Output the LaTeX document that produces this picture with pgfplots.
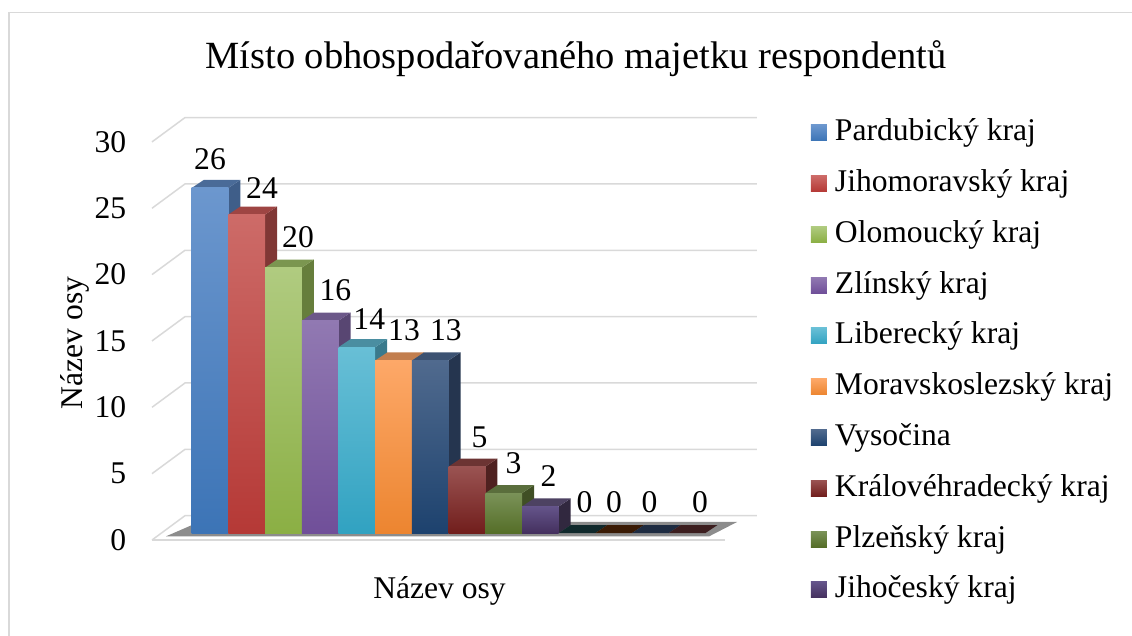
\documentclass[border=0pt]{standalone}
\usepackage{pgfplots}
\pgfplotsset{compat=1.18}
\usepackage{fontspec}
\setmainfont{Liberation Serif}
\newcommand{\bigf}{\fontsize{31.6}{38}\selectfont}
\definecolor{gridc}{HTML}{D9D9D9}
\definecolor{f1t}{HTML}{6C97CE}\definecolor{f1b}{HTML}{3C74B6}
\definecolor{f2t}{HTML}{CD6B68}\definecolor{f2b}{HTML}{B53936}
\definecolor{f3t}{HTML}{B0CB80}\definecolor{f3b}{HTML}{8BAF44}
\definecolor{f4t}{HTML}{9179B2}\definecolor{f4b}{HTML}{704F99}
\definecolor{f5t}{HTML}{68BFD6}\definecolor{f5b}{HTML}{31A2C1}
\definecolor{f6t}{HTML}{FDA868}\definecolor{f6b}{HTML}{EC8530}
\definecolor{f7t}{HTML}{506A8E}\definecolor{f7b}{HTML}{1D426E}
\definecolor{f8t}{HTML}{9A5352}\definecolor{f8b}{HTML}{711E1C}
\definecolor{f9t}{HTML}{7A9258}\definecolor{f9b}{HTML}{556E28}
\definecolor{f10t}{HTML}{64548A}\definecolor{f10b}{HTML}{44305E}
\definecolor{s1}{HTML}{3F5E89}\definecolor{s2}{HTML}{803735}
\definecolor{s3}{HTML}{667E3C}\definecolor{s4}{HTML}{584672}
\definecolor{s5}{HTML}{3A7A8C}\definecolor{s6}{HTML}{A85E24}
\definecolor{s7}{HTML}{25354F}\definecolor{s8}{HTML}{4F2120}
\definecolor{s9}{HTML}{404F25}\definecolor{s10}{HTML}{31283F}
\definecolor{t1}{HTML}{4A6B98}\definecolor{t2}{HTML}{9E4543}
\definecolor{t3}{HTML}{7B9650}\definecolor{t4}{HTML}{6C5889}
\definecolor{t5}{HTML}{4A8EA1}\definecolor{t6}{HTML}{C27E4E}
\definecolor{t7}{HTML}{3C5272}\definecolor{t8}{HTML}{6C3433}
\definecolor{t9}{HTML}{5A6E3C}\definecolor{t10}{HTML}{4D4262}
\definecolor{t11}{HTML}{10292C}\definecolor{t12}{HTML}{3A1B05}
\definecolor{t13}{HTML}{1E2C42}\definecolor{t14}{HTML}{3C1E1F}
\begin{document}
\begin{tikzpicture}
\useasboundingbox (-173.35pt,-102pt) rectangle (958.65pt,533pt);
\draw[gridc, line width=1.5pt] (-164.35pt,-200pt) -- (-164.35pt,520.7pt) -- (1100pt,520.7pt);
\begin{axis}[
  anchor=origin, at={(0pt,0pt)},
  x=36.7pt, y=13.27pt,
  xmin=-0.6, xmax=16, ymin=-0.6, ymax=31.5,
  axis line style={draw=none}, clip=false,
  xtick=\empty,
  ytick={-0.528,4.472,9.472,14.472,19.472,24.472,29.472},
  yticklabels={0,5,10,15,20,25,30},
  major tick length=0pt,
  /pgf/number format/assume math mode=true,
  yticklabel style={anchor=east, inner sep=0pt, xshift=-25pt, font=\bigf},
  legend image code/.code={\draw[#1, draw=none] (0pt,-8pt) rectangle (16pt,8pt);},
  legend style={at={(axis description cs:1.0828,0.996)}, anchor=north west,
    draw=none, inner sep=0pt, outer sep=0pt, row sep=18.8pt, column sep=8pt,
    font=\bigf, nodes={inner sep=0pt, text height=24pt, text depth=8pt}},
  legend cell align=left,
]
% shadow
\addplot[forget plot, fill=black, fill opacity=0.45, draw=none] coordinates {(-0.2,-0.25)(14.6,-0.25)(15.36,0.83)(0.7,0.83)} -- cycle;
% gridlines: slanted left wall part and back wall part
\addplot[forget plot, gridc, line width=1.5pt] coordinates {(-0.582,-0.528)(0.317,1.304)(15.9,1.304)};
\addplot[forget plot, gridc, line width=1.5pt] coordinates {(-0.582,4.472)(0.317,6.304)(15.9,6.304)};
\addplot[forget plot, gridc, line width=1.5pt] coordinates {(-0.582,9.472)(0.317,11.304)(15.9,11.304)};
\addplot[forget plot, gridc, line width=1.5pt] coordinates {(-0.582,14.472)(0.317,16.304)(15.9,16.304)};
\addplot[forget plot, gridc, line width=1.5pt] coordinates {(-0.582,19.472)(0.317,21.304)(15.9,21.304)};
\addplot[forget plot, gridc, line width=1.5pt] coordinates {(-0.582,24.472)(0.317,26.304)(15.9,26.304)};
\addplot[forget plot, gridc, line width=1.5pt] coordinates {(-0.582,29.472)(0.317,31.304)(15.9,31.304)};
\addplot[forget plot, gridc, line width=1.5pt] coordinates {(-0.582,-0.528)(15.03,-0.528)};
% bar 1
\addplot[forget plot, fill=s1, draw=none] coordinates {(1.5,0)(1.827,0.603)(1.827,26.603)(1.5,26)} -- cycle;
\addplot[forget plot, fill=t1, draw=none] coordinates {(0.5,26)(0.827,26.603)(1.827,26.603)(1.5,26)} -- cycle;
\addplot[ybar, bar width=1, bar shift=0pt, draw=none, top color=f1t, bottom color=f1b] coordinates {(1,26)};
\addlegendentry{Pardubický kraj}
% bar 2
\addplot[forget plot, fill=s2, draw=none] coordinates {(2.5,0)(2.827,0.603)(2.827,24.603)(2.5,24)} -- cycle;
\addplot[forget plot, fill=t2, draw=none] coordinates {(1.5,24)(1.827,24.603)(2.827,24.603)(2.5,24)} -- cycle;
\addplot[ybar, bar width=1, bar shift=0pt, draw=none, top color=f2t, bottom color=f2b] coordinates {(2,24)};
\addlegendentry{Jihomoravský kraj}
% bar 3
\addplot[forget plot, fill=s3, draw=none] coordinates {(3.5,0)(3.827,0.603)(3.827,20.603)(3.5,20)} -- cycle;
\addplot[forget plot, fill=t3, draw=none] coordinates {(2.5,20)(2.827,20.603)(3.827,20.603)(3.5,20)} -- cycle;
\addplot[ybar, bar width=1, bar shift=0pt, draw=none, top color=f3t, bottom color=f3b] coordinates {(3,20)};
\addlegendentry{Olomoucký kraj}
% bar 4
\addplot[forget plot, fill=s4, draw=none] coordinates {(4.5,0)(4.827,0.603)(4.827,16.603)(4.5,16)} -- cycle;
\addplot[forget plot, fill=t4, draw=none] coordinates {(3.5,16)(3.827,16.603)(4.827,16.603)(4.5,16)} -- cycle;
\addplot[ybar, bar width=1, bar shift=0pt, draw=none, top color=f4t, bottom color=f4b] coordinates {(4,16)};
\addlegendentry{Zlínský kraj}
% bar 5
\addplot[forget plot, fill=s5, draw=none] coordinates {(5.5,0)(5.827,0.603)(5.827,14.603)(5.5,14)} -- cycle;
\addplot[forget plot, fill=t5, draw=none] coordinates {(4.5,14)(4.827,14.603)(5.827,14.603)(5.5,14)} -- cycle;
\addplot[ybar, bar width=1, bar shift=0pt, draw=none, top color=f5t, bottom color=f5b] coordinates {(5,14)};
\addlegendentry{Liberecký kraj}
% bar 6
\addplot[forget plot, fill=s6, draw=none] coordinates {(6.5,0)(6.827,0.603)(6.827,13.603)(6.5,13)} -- cycle;
\addplot[forget plot, fill=t6, draw=none] coordinates {(5.5,13)(5.827,13.603)(6.827,13.603)(6.5,13)} -- cycle;
\addplot[ybar, bar width=1, bar shift=0pt, draw=none, top color=f6t, bottom color=f6b] coordinates {(6,13)};
\addlegendentry{Moravskoslezský kraj}
% bar 7
\addplot[forget plot, fill=s7, draw=none] coordinates {(7.5,0)(7.827,0.603)(7.827,13.603)(7.5,13)} -- cycle;
\addplot[forget plot, fill=t7, draw=none] coordinates {(6.5,13)(6.827,13.603)(7.827,13.603)(7.5,13)} -- cycle;
\addplot[ybar, bar width=1, bar shift=0pt, draw=none, top color=f7t, bottom color=f7b] coordinates {(7,13)};
\addlegendentry{Vysočina}
% bar 8
\addplot[forget plot, fill=s8, draw=none] coordinates {(8.5,0)(8.827,0.603)(8.827,5.603)(8.5,5)} -- cycle;
\addplot[forget plot, fill=t8, draw=none] coordinates {(7.5,5)(7.827,5.603)(8.827,5.603)(8.5,5)} -- cycle;
\addplot[ybar, bar width=1, bar shift=0pt, draw=none, top color=f8t, bottom color=f8b] coordinates {(8,5)};
\addlegendentry{Královéhradecký kraj}
% bar 9
\addplot[forget plot, fill=s9, draw=none] coordinates {(9.5,0)(9.827,0.603)(9.827,3.603)(9.5,3)} -- cycle;
\addplot[forget plot, fill=t9, draw=none] coordinates {(8.5,3)(8.827,3.603)(9.827,3.603)(9.5,3)} -- cycle;
\addplot[ybar, bar width=1, bar shift=0pt, draw=none, top color=f9t, bottom color=f9b] coordinates {(9,3)};
\addlegendentry{Plzeňský kraj}
% bar 10
\addplot[forget plot, fill=s10, draw=none] coordinates {(10.5,0)(10.827,0.603)(10.827,2.603)(10.5,2)} -- cycle;
\addplot[forget plot, fill=t10, draw=none] coordinates {(9.5,2)(9.827,2.603)(10.827,2.603)(10.5,2)} -- cycle;
\addplot[ybar, bar width=1, bar shift=0pt, draw=none, top color=f10t, bottom color=f10b] coordinates {(10,2)};
\addlegendentry{Jihočeský kraj}
% bars 11-14 (value 0)
\addplot[forget plot, fill=t11, draw=none] coordinates {(10.5,0)(10.827,0.603)(11.827,0.603)(11.5,0)} -- cycle;
\addplot[forget plot, fill=t12, draw=none] coordinates {(11.5,0)(11.827,0.603)(12.827,0.603)(12.5,0)} -- cycle;
\addplot[forget plot, fill=t13, draw=none] coordinates {(12.5,0)(12.827,0.603)(13.827,0.603)(13.5,0)} -- cycle;
\addplot[forget plot, fill=t14, draw=none] coordinates {(13.5,0)(13.827,0.603)(14.827,0.603)(14.5,0)} -- cycle;
% value labels
\addplot[forget plot, only marks, mark=none, point meta=explicit symbolic,
  nodes near coords, every node near coord/.style={anchor=base, inner sep=0pt, font=\bigf, text=black}]
  coordinates {(0.999,27.43)[26] (2.416,25.17)[24] (3.397,21.49)[20] (4.418,17.54)[16]
  (5.339,15.36)[14] (6.285,14.47)[13] (7.429,14.47)[13] (8.342,6.41)[5] (9.268,4.52)[3]
  (10.222,3.47)[2] (11.203,1.51)[0] (12.007,1.51)[0] (12.974,1.51)[0] (14.35,1.51)[0]};
\end{axis}
\node[anchor=base, inner sep=0pt, font=\fontsize{38.5}{46}\selectfont] at (402.65pt,464.7pt) {Místo obhospodařovaného majetku respondentů};
\node[anchor=base, inner sep=0pt, font=\bigf] at (266.15pt,-65pt) {Název osy};
\node[anchor=base, inner sep=0pt, font=\bigf, rotate=90] at (-90.35pt,190pt) {Název osy};
\end{tikzpicture}
\end{document}
